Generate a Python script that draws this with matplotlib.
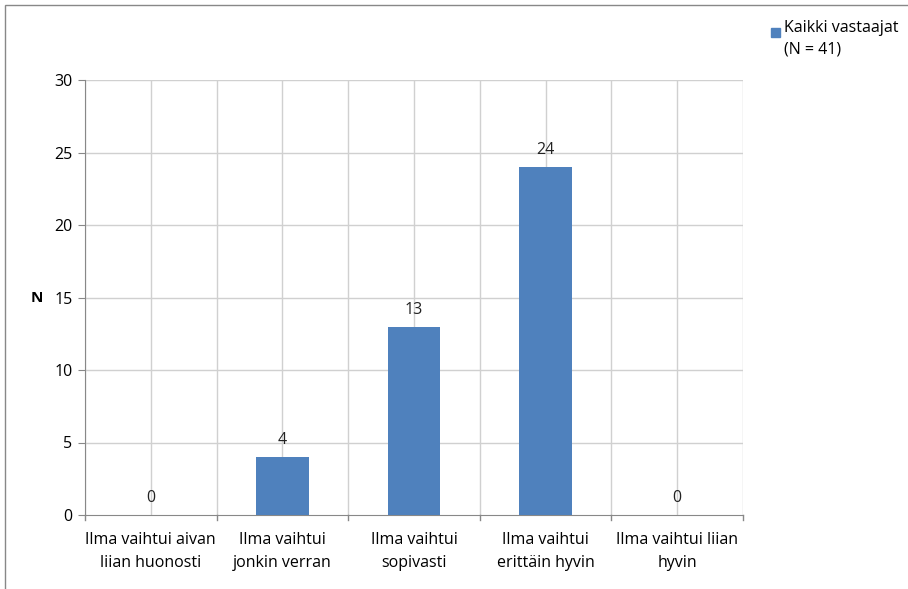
import numpy as np
import matplotlib.pyplot as plt
from matplotlib.patches import Rectangle

categories = ["Ilma vaihtui aivan\nliian huonosti", "Ilma vaihtui\njonkin verran",
              "Ilma vaihtui\nsopivasti", "Ilma vaihtui\nerittäin hyvin",
              "Ilma vaihtui liian\nhyvin"]
counts = [0, 4, 13, 24, 0]
series_label = "Kaikki vastaajat\n(N = 41)"

plt.rcParams['font.family'] = ['Liberation Sans Narrow', 'Open Sans', 'DejaVu Sans']

W, H = 908, 589
fig = plt.figure(figsize=(W / 100, H / 100), dpi=100)
ax = fig.add_axes([85 / W, 1 - 515 / H, (743 - 85) / W, (515 - 80) / H])

x = np.arange(len(categories))
bars = ax.bar(x, counts, width=0.4, color='#4F81BD', zorder=3)
for xi, v in zip(x, counts):
    ax.text(xi, v + 0.6, str(v), ha='center', va='bottom', fontsize=11.5, color='#222222')

ax.set_xlim(-0.5, len(categories) - 0.5)
ax.set_ylim(0, 30)
ax.set_yticks(range(0, 31, 5))
ax.set_xticks(x)
ax.set_xticklabels(categories, fontsize=11.5, linespacing=1.6)
ax.tick_params(axis='x', length=0, pad=12)
ax.tick_params(axis='y', length=5, color='#888888', labelsize=11.5, pad=4)

# grid: horizontal at major ticks, vertical at both centres and boundaries
for yv in range(5, 31, 5):
    ax.axhline(yv, color='#D0D0D0', lw=1, zorder=1)
for xv in np.arange(-0.5, len(categories), 0.5):
    ax.axvline(xv, color='#D0D0D0', lw=1, zorder=1)
for xv in np.arange(-0.5, len(categories), 1.0):
    ax.plot([xv, xv], [0, -0.012], transform=ax.get_xaxis_transform(),
            color='#888888', lw=1, clip_on=False)

for s in ['top', 'right']:
    ax.spines[s].set_visible(False)
ax.spines['left'].set_color('#888888')
ax.spines['bottom'].set_color('#888888')

fig.text(37 / W, 1 - 298 / H, "N", fontsize=11, fontweight='bold', ha='center', va='center')

# legend
fig.patches.append(Rectangle((771 / W, 1 - 37 / H), 9 / W, 9 / H,
                             transform=fig.transFigure, color='#4F81BD'))
fig.text(784 / W, 1 - 20 / H, series_label, fontsize=11.5, va='top', ha='left',
         linespacing=1.45)

# outer chart border
fig.patches.append(Rectangle((5 / W, -0.1), 1.2, 1 - 5 / H + 0.1, transform=fig.transFigure,
                             fill=False, edgecolor='#888888', lw=1))

fig.savefig("out.png", dpi=100)
